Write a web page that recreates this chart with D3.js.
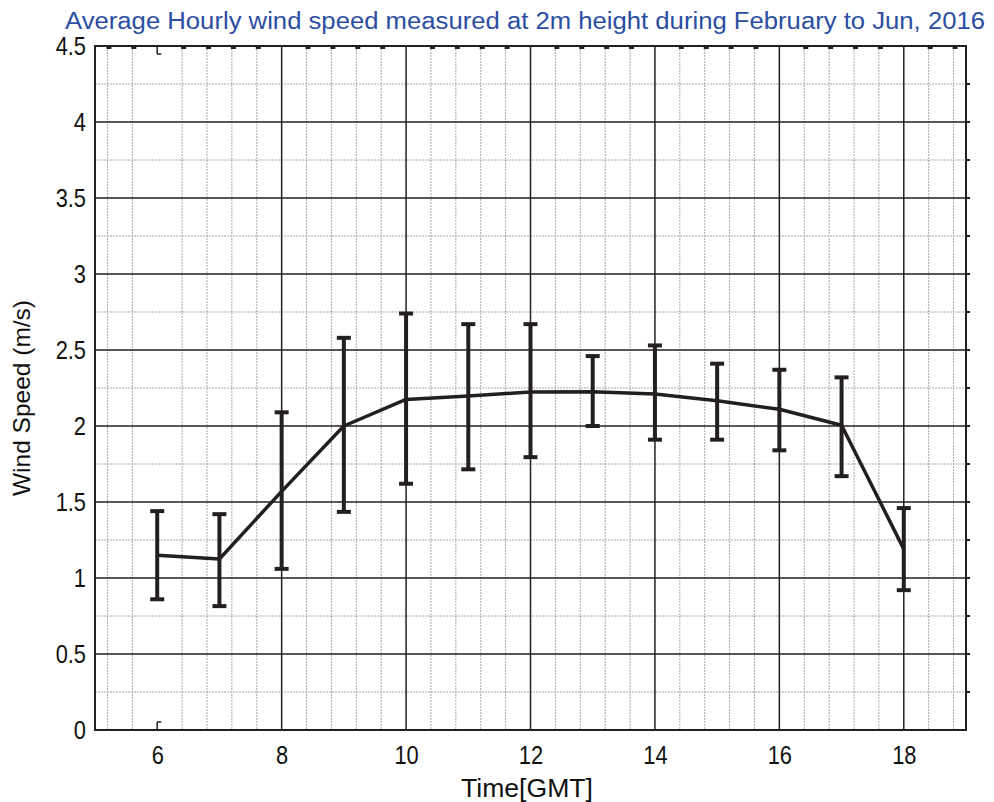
<!DOCTYPE html>
<html><head><meta charset="utf-8">
<script src="https://cdn.jsdelivr.net/npm/d3@7"></script>
<style>body{margin:0;background:#fff}svg{display:block}text{font-family:"Liberation Sans",Arial,sans-serif}</style>
</head><body>
<svg id="c" width="994" height="802"></svg>
<script>
const hours = [6,7,8,9,10,11,12,13,14,15,16,17,18];
const meanSpeed = [1.15,1.125,1.57,2.0,2.175,2.197,2.224,2.226,2.21,2.166,2.11,2.005,1.19];
const upperBar = [1.44,1.42,2.09,2.58,2.74,2.67,2.67,2.46,2.53,2.41,2.37,2.32,1.46];
const lowerBar = [0.86,0.815,1.06,1.435,1.62,1.715,1.795,2.0,1.91,1.91,1.84,1.67,0.92];
const xTicks = [6,8,10,12,14,16,18];
const yTicks = [0,0.5,1,1.5,2,2.5,3,3.5,4,4.5];
const titleText = "Average Hourly wind speed measured at 2m height during February to Jun, 2016";
const xLabel = "Time[GMT]";
const yLabel = "Wind Speed (m/s)";

const svg = d3.select("#c");
const L=95,R=966,T=46,B=730;
const x = d3.scaleLinear().domain([5,19]).range([L,R]);
const y = d3.scaleLinear().domain([0,4.5]).range([B,T]);
const ink = "#231f20";

// minor grid
const xMinor = d3.range(5.2,19,0.4).filter(v=>Math.abs(v/2-Math.round(v/2))>0.01);
const yMinor = d3.range(0.25,4.5,0.5);
const g = svg.append("g");
g.selectAll(".vm").data(xMinor).join("line")
  .attr("x1",d=>x(d)).attr("x2",d=>x(d)).attr("y1",T).attr("y2",B)
  .attr("stroke","#a8a8a8").attr("stroke-width",1).attr("stroke-dasharray","2,1");
g.selectAll(".hm").data(yMinor).join("line")
  .attr("x1",L).attr("x2",R).attr("y1",d=>y(d)).attr("y2",d=>y(d))
  .attr("stroke","#a8a8a8").attr("stroke-width",1).attr("stroke-dasharray","2,1");
// major grid
g.selectAll(".vM").data(xTicks.filter(d=>d>6)).join("line")
  .attr("x1",d=>x(d)).attr("x2",d=>x(d)).attr("y1",T).attr("y2",B)
  .attr("stroke",ink).attr("stroke-width",1.5);
g.selectAll(".hM").data(yTicks.slice(1,-1)).join("line")
  .attr("x1",L).attr("x2",R).attr("y1",d=>y(d)).attr("y2",d=>y(d))
  .attr("stroke",ink).attr("stroke-width",1.5);

// small tick marks (top edge, right edge)
g.selectAll(".tt").data(xMinor).join("line")
  .attr("x1",d=>x(d)-1).attr("x2",d=>x(d)+4).attr("y1",T+2).attr("y2",T+2)
  .attr("stroke",ink).attr("stroke-width",2);
g.selectAll(".rt").data(d3.range(0.25,4.5,0.25)).join("line")
  .attr("x1",R).attr("x2",R+4).attr("y1",d=>y(d)).attr("y2",d=>y(d))
  .attr("stroke",ink).attr("stroke-width",2);
// major ticks at 6
[[T,T+8],[B,B-8]].forEach(([a,b])=>{
  g.append("line").attr("x1",x(6)).attr("x2",x(6)).attr("y1",a).attr("y2",b).attr("stroke",ink).attr("stroke-width",1.5);
  g.append("line").attr("x1",x(6)).attr("x2",x(6)+4).attr("y1",b).attr("y2",b).attr("stroke",ink).attr("stroke-width",1.5);
});

// frame
svg.append("rect").attr("x",L).attr("y",T).attr("width",R-L).attr("height",B-T)
  .attr("fill","none").attr("stroke",ink).attr("stroke-width",2);

// axes labels via d3 axes
const xa = svg.append("g").attr("transform",`translate(0,${B})`)
  .call(d3.axisBottom(x).tickValues(xTicks).tickSize(0).tickPadding(16));
const ya = svg.append("g").attr("transform",`translate(${L},0)`)
  .call(d3.axisLeft(y).tickValues(yTicks).tickSize(0).tickPadding(9).tickFormat(d3.format("")));
[xa,ya].forEach(a=>{a.select(".domain").remove();
  a.selectAll("text").attr("font-size",26).attr("fill","#111")
   .style("font-family","'Liberation Sans',Arial,sans-serif")
   .each(function(){const w=this.getComputedTextLength();
     d3.select(this).attr("textLength",w*0.84).attr("lengthAdjust","spacingAndGlyphs");});});

// error bars
const eb = svg.append("g").attr("stroke",ink);
hours.forEach((h,i)=>{
  eb.append("line").attr("x1",x(h)).attr("x2",x(h)).attr("y1",y(lowerBar[i])).attr("y2",y(upperBar[i])).attr("stroke-width",4);
  [upperBar[i],lowerBar[i]].forEach(v=>eb.append("line")
    .attr("x1",x(h)-7).attr("x2",x(h)+7).attr("y1",y(v)).attr("y2",y(v)).attr("stroke-width",4));
});
// mean line
svg.append("path").datum(hours.map((h,i)=>[h,meanSpeed[i]]))
  .attr("d",d3.line().x(d=>x(d[0])).y(d=>y(d[1])))
  .attr("fill","none").attr("stroke",ink).attr("stroke-width",3.5).attr("stroke-linejoin","round");

// title and axis titles
svg.append("text").attr("x",525).attr("y",29).attr("text-anchor","middle")
  .attr("font-size",23).attr("fill","#2b4ea2").attr("textLength",920).attr("lengthAdjust","spacingAndGlyphs")
  .text(titleText);
svg.append("text").attr("x",527).attr("y",797).attr("text-anchor","middle")
  .attr("font-size",26).attr("fill","#111").attr("textLength",132).attr("lengthAdjust","spacingAndGlyphs").text(xLabel);
svg.append("text").attr("transform","translate(30,398) rotate(-90)").attr("text-anchor","middle")
  .attr("font-size",24).attr("fill","#111").attr("textLength",196).attr("lengthAdjust","spacingAndGlyphs").text(yLabel);
</script>
</body></html>
